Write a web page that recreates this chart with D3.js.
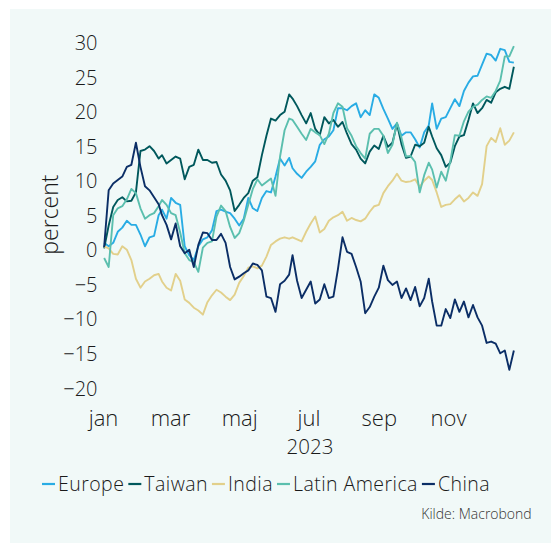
<!DOCTYPE html>
<html>
<head>
<meta charset="utf-8">
<script src="https://cdn.jsdelivr.net/npm/d3@7"></script>
<style>
  html, body { margin: 0; padding: 0; background: #ffffff; }
  svg { display: block; }
</style>
</head>
<body>
<svg id="chart" width="551" height="543"></svg>
<script>
// Day of year (2023) for each observation
const days = [1,5,9,13,17,21,25,29,33,37,41,45,49,52,56,60,64,68,72,76,80,84,88,92,96,100,104,108,112,116,120,124,128,132,136,140,144,148,152,156,160,164,167,171,175,179,183,187,191,195,199,203,207,211,215,219,223,227,231,235,239,243,247,251,255,259,263,267,271,275,279,283,287,290,294,298,302,306,310,314,318,322,326,330,334,338,342,346,350,354,358,362];

// Year-to-date return, percent
const europe = [1,0.5,1,2.6,3.2,4.2,3.6,3.6,2.2,0.5, 1.8,2,5,5.8,4.5,7.5,6.8,6.5,0.5,-0.8, -1.5,0.5,1.5,1.8,2.8,5.6,5.8,5.5,5.3,4.5, 3.5,4.5,7.5,6,5.6,7.5,8.5,8.3,10.6,13.2, 12.2,13.3,11.8,11,10.4,11.3,12,12.8,15.2,16, 16.4,17.3,20.5,20.5,20.2,20.8,21.2,19.2,20.2,19.5, 22.5,22,20.4,19,17.5,18.3,16.5,17,17,16, 14.8,17,18,21.2,17.5,19,19.2,20.5,21.8,20.8, 23,24.2,25.1,25.2,26.8,28.4,28.2,27.4,29.1,28.9, 27.2,27.1];
const taiwan = [0.2,3.5,6.2,7.2,7.6,7,7.1,8.3,14.3,14.5, 15,14.3,13.2,13.7,12.5,13,13.5,13.2,10.2,12, 12.3,14.5,13,13,12.6,12.7,10.9,10,8.6,5.6, 6.5,7.5,8.2,10,10.5,13.7,16.5,19,18.7,19.5, 20,22.5,21.9,20.8,19.5,18.3,19.8,17.5,16.6,19.2, 18.3,18.8,17.8,18.5,16.8,15.3,14.5,13.2,12.5,14.2, 15.1,14.6,16.5,14.9,15.5,18.2,15.3,13.3,13.5,15.2, 15,15.5,17.8,16.4,14.7,13.7,12,12.6,15,16.4, 16.6,18.8,21.2,19.8,20.5,21.7,21.3,22.8,23.3,23.6, 23.3,26.5];
const india = [0.5,0.2,-0.6,-0.7,0.5,0,-1.5,-4.2,-5.5,-4.6, -4.2,-3.7,-3.5,-4.6,-5.5,-5.9,-3.5,-4.5,-7.2,-7.7, -8.4,-8.8,-9.4,-7.6,-6.6,-5.8,-6.2,-6.8,-7.3,-6.5, -4.8,-3.8,-2.6,-2.4,-2.7,-2.3,-1,0.7,1.2,1.6, 1.8,1.6,1.8,1.5,1.2,2.6,3.8,4.8,2.5,3, 4.2,4.7,5,5.5,4.2,4.6,4.3,4.1,4.5,5.5, 6.3,6.5,8.2,9.2,10,11,10,9.8,9.9,10.2, 9.1,10,10.6,10.1,8.3,6.2,6.5,6.6,7.3,7.9, 7,7.5,8.3,7.8,9.5,15,16.2,15.6,17.6,15.2, 15.8,17];
const latinAmerica = [-1.2,-2.5,5,6,6.3,7.3,8.8,8.2,6,4.5, 5,5.3,6.3,7.2,6.5,5.3,5,2.5,-0.5,-1.5, -1.8,-3.2,0.3,1,1.2,4.8,6.4,5.6,3.3,1.7, 2.4,4.2,6.5,8.8,10.2,9.3,9.8,10.3,7.8,13.5, 17.3,19,18.8,17.8,16.8,15.9,17.5,17,16.6,15.3, 16.8,19.8,21.2,20.7,17.6,16.5,15,14,13.2,16.8, 17.5,17.5,16.5,14,15.2,18.4,16.2,13.5,13.6,12.7, 8.3,10.8,12.6,11.6,9,11.3,10,12.8,16.6,16.5, 18.6,20,20.7,21,21.7,22.2,22,23,24.5,28, 28,29.5];
const china = [0.4,8.6,9.6,10.1,10.6,12,12.3,15.5,12,9.2, 8.6,7.6,6.6,5,3.6,1.5,3.8,0.5,-0.5,0, -2.5,0.7,2.5,2.4,1.4,1.4,2.3,1,-2.5,-4.3, -3.9,-3.4,-3,-2,-2.2,-3,-6.8,-7,-9,-5, -4.5,-3.6,-0.8,-4.5,-7,-5.8,-4.6,-7.8,-7.2,-5, -7,-6.8,-2.8,1.8,-0.3,-0.6,-2.5,-4.6,-9.2,-8.3, -6.8,-5.5,-2.3,-4.4,-5.1,-4.6,-7,-5.6,-7.3,-5.4, -8.2,-7,-4.2,-7.5,-11,-11,-8.6,-9.9,-7.2,-9, -7.5,-9.8,-8,-9.8,-11,-13.5,-13.3,-13.6,-15,-14.6, -17.4,-14.6];

const seriesNames = ["Europe", "Taiwan", "India", "Latin America", "China"];
const seriesValues = [europe, taiwan, india, latinAmerica, china];
const seriesColors = ["#29ace4", "#00585c", "#e2d08b", "#5bbfae", "#0b2e66"];

const yTicks = [30, 25, 20, 15, 10, 5, 0, -5, -10, -15, -20];
const monthLabels = ["jan", "mar", "maj", "jul", "sep", "nov"];
const monthIndex = [0, 2, 4, 6, 8, 10];
const yearLabel = "2023";
const yTitle = "percent";
const sourceNote = "Kilde: Macrobond";

const FONT = "'Open Sans', 'DejaVu Sans', sans-serif";
const WEIGHT = 300;
const TEXT = "#1a1a1a";

const svg = d3.select("#chart");

// light panel behind the whole chart
svg.append("rect")
  .attr("x", 10).attr("y", 9)
  .attr("width", 541).attr("height", 534)
  .attr("fill", "#f1f9f8");

const x = d3.scaleUtc()
  .domain([new Date(Date.UTC(2023, 0, 1)), new Date(Date.UTC(2024, 0, 1))])
  .range([103, 103 + 365 * 1.135]);

const y = d3.scaleLinear()
  .domain([-20, 30])
  .range([387.8, 42.6]);

const dateOf = d => new Date(Date.UTC(2023, 0, 1 + d));

function styleText(sel, size) {
  sel.attr("fill", TEXT)
    .style("font-family", FONT)
    .style("font-weight", WEIGHT)
    .style("font-size", size + "px");
}

// y axis: numbers only
const yAxis = svg.append("g")
  .attr("transform", "translate(97.5,0)")
  .call(d3.axisLeft(y).tickValues(yTicks).tickSize(0).tickPadding(0).tickFormat(d3.format("d")));
yAxis.select(".domain").remove();
yAxis.selectAll("text").attr("x", 0).attr("dy", "0.36em").call(styleText, 20);

// x axis: month names at month starts
const xAxis = svg.append("g")
  .attr("transform", "translate(0,426)")
  .call(d3.axisBottom(x)
    .tickValues(monthIndex.map(m => new Date(Date.UTC(2023, m, 1))))
    .tickSize(0)
    .tickFormat((d, i) => monthLabels[i]));
xAxis.select(".domain").remove();
xAxis.selectAll("text").attr("y", 0).attr("dy", null).call(styleText, 22);

svg.append("text")
  .attr("x", 310).attr("y", 453.5)
  .attr("text-anchor", "middle")
  .call(styleText, 20.5)
  .text(yearLabel);

svg.append("text")
  .attr("transform", "translate(58,214.6) rotate(-90)")
  .attr("text-anchor", "middle")
  .call(styleText, 23)
  .text(yTitle);

// lines
const line = d3.line()
  .x((v, i) => x(dateOf(days[i])))
  .y(v => y(v));

svg.append("g")
  .selectAll("path")
  .data(seriesValues)
  .join("path")
  .attr("d", line)
  .attr("fill", "none")
  .attr("stroke", (d, i) => seriesColors[i])
  .attr("stroke-width", 1.9)
  .attr("stroke-linejoin", "round");

// legend
const legend = svg.append("g");
let lx = 42;
const ly = 490.5;
seriesNames.forEach((name, i) => {
  legend.append("line")
    .attr("x1", lx).attr("x2", lx + 13)
    .attr("y1", ly - 6.5).attr("y2", ly - 6.5)
    .attr("stroke", seriesColors[i])
    .attr("stroke-width", 2.2);
  const t = legend.append("text")
    .attr("x", lx + 16).attr("y", ly)
    .call(styleText, 19.5)
    .style("letter-spacing", "0.45px")
    .text(name);
  lx += 16 + t.node().getComputedTextLength() + 4;
});

svg.append("text")
  .attr("x", 531.7).attr("y", 519.3)
  .attr("text-anchor", "end")
  .call(styleText, 14)
  .attr("fill", "#333333")
  .text(sourceNote);
</script>
</body>
</html>
